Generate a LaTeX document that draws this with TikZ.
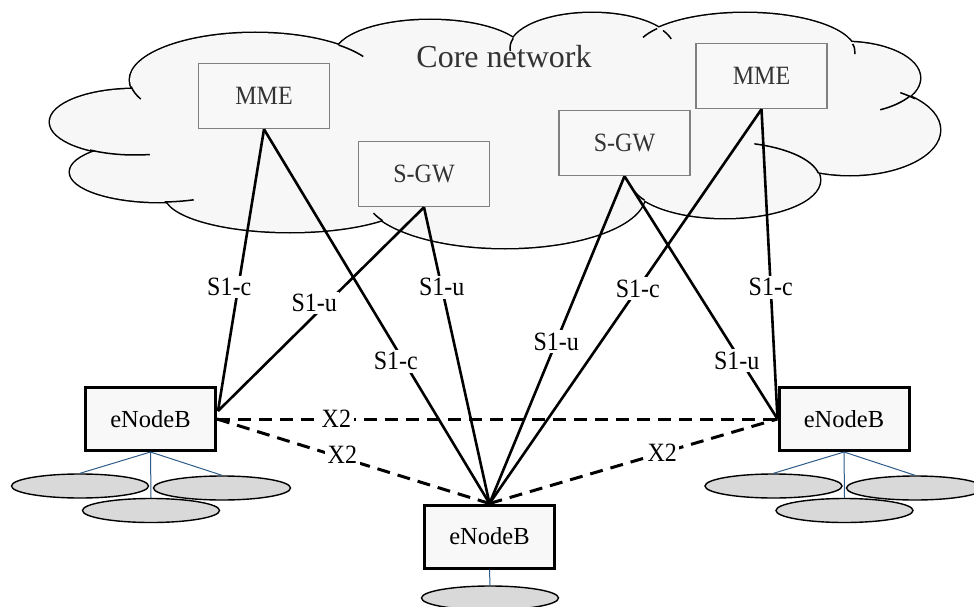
\documentclass[tikz,border=0pt]{standalone}
\usepackage{fontspec}
\usepackage{graphicx}
\setmainfont{Liberation Serif}
\usetikzlibrary{calc,shapes.geometric}
\definecolor{cloudfill}{HTML}{F7F7F7}
\definecolor{boxfill}{HTML}{F8F8F8}
\definecolor{boxgray}{HTML}{808080}
\definecolor{uefill}{HTML}{D9D9D9}
\definecolor{uelink}{HTML}{2E5C8A}
\definecolor{txtgray}{HTML}{333333}
\newcommand{\tallt}[1]{\scalebox{1}[1.1]{#1}}
\begin{document}
\begin{tikzpicture}[x=1pt,y=-1pt,
  corebox/.style={draw=boxgray, line width=1.5pt, fill=boxfill, minimum width=131pt, minimum height=65pt, inner sep=0pt, font=\fontsize{24}{28}\selectfont, text=txtgray},
  enb/.style={draw=black, line width=3pt, fill=boxfill, minimum width=130pt, minimum height=63pt, inner sep=0pt, font=\fontsize{24.5}{28}\selectfont},
  ue/.style={ellipse, draw=black, line width=1.4pt, fill=uefill, minimum width=137pt, minimum height=24pt, inner sep=0pt},
  uelinkstyle/.style={draw=uelink, line width=1pt},
  sone/.style={draw=black, line width=2.6pt},
  xtwo/.style={draw=black, line width=3pt, dash pattern=on 13pt off 8pt},
  lab/.style={fill=white, inner sep=2.5pt, font=\fontsize{24}{28}\selectfont},
  tail/.style={draw=black, line width=1.5pt},
  cloudtext/.style={font=\fontsize{32}{36}\selectfont, text=txtgray}
]
\useasboundingbox (0,0) rectangle (974,607);
\fill[white] (0,0) rectangle (974,607);

% cloud: outline of union of ellipses
\foreach \cx/\cy/\rx/\ry in {255/80/125/47, 135/122/85/33, 160/172/90/30, 290/195/125/37, 505/195/140/53, 725/180/95/38, 850/130/90/45, 845/78/75/36, 745/52/110/39, 592/48/82/35, 430/55/95/35}
  \draw[line width=3pt] (\cx,\cy) ellipse [x radius=\rx, y radius=\ry];
\foreach \cx/\cy/\rx/\ry in {255/80/125/47, 135/122/85/33, 160/172/90/30, 290/195/125/37, 505/195/140/53, 725/180/95/38, 850/130/90/45, 845/78/75/36, 745/52/110/39, 592/48/82/35, 430/55/95/35, 500/125/320/75}
  \fill[cloudfill] (\cx,\cy) ellipse [x radius=\rx, y radius=\ry];
% cloud tails
\foreach \cx/\cy/\rx/\ry/\ta/\tb in {255/80/125/47/172/156, 255/80/125/47/-48/-30, 135/122/85/33/122/80, 160/172/90/30/87/68, 505/195/140/53/151/160, 725/180/95/38/148/165, 725/180/95/38/-72/-10, 850/130/90/45/-56/-44, 845/78/75/36/30/62, 745/52/110/39/-12/3, 745/52/110/39/-158/-143, 592/48/82/35/-30/-15, 592/48/82/35/175/196}
  \draw[tail] (\cx,\cy) ++({\rx*cos(\ta)},{\ry*sin(\ta)}) arc[start angle=\ta, end angle=\tb, x radius=\rx, y radius=\ry];

\node[cloudtext] (core) at (504,57) {Core network};

% core boxes
\node[corebox] (mme1) at (264,96) {\tallt{MME}};
\node[corebox] (sgw1) at (424,174) {\tallt{S-GW}};
\node[corebox] (sgw2) at (624.5,143) {\tallt{S-GW}};
\node[corebox] (mme2) at (761.5,76) {\tallt{MME}};

% eNodeBs
\node[enb] (enbL) at (150.5,419) {eNodeB};
\node[enb] (enbB) at (489.5,536.5) {eNodeB};
\node[enb] (enbR) at (844,419) {eNodeB};

% UEs
\node[ue] (ueL1) at (80,486) {};
\node[ue] (ueL2) at (222,488) {};
\node[ue] (ueL3) at (151,510.5) {};
\node[ue] (ueR1) at (773.5,486) {};
\node[ue] (ueR2) at (915,488) {};
\node[ue] (ueR3) at (844.5,510.5) {};
\node[ue] (ueB1) at (490,598) {};

\draw[uelinkstyle] (enbL.south) -- (ueL1.north);
\draw[uelinkstyle] (enbL.south) -- (ueL2.north);
\draw[uelinkstyle] (enbL.south) -- (ueL3.north);
\draw[uelinkstyle] (enbR.south) -- (ueR1.north);
\draw[uelinkstyle] (enbR.south) -- (ueR2.north);
\draw[uelinkstyle] (enbR.south) -- (ueR3.north);
\draw[uelinkstyle] (enbB.south) -- (ueB1.north);

% S1 interfaces
\coordinate (enbLs1) at ($(enbL.east)+(1,-8)$);
\draw[sone] (mme1.south) -- node[lab, pos=.56, xshift=-9pt] {\tallt{S1-c}} (enbLs1);
\draw[sone] (mme1.south) -- node[lab, pos=.62, xshift=-8pt] {\tallt{S1-c}} (enbB.north);
\draw[sone] (sgw1.south) -- node[lab, pos=.47, xshift=-13pt] {\tallt{S1-u}} (enbLs1);
\draw[sone] (sgw1.south) -- node[lab, pos=.27] {\tallt{S1-u}} (enbB.north);
\draw[sone] (sgw2.south) -- node[lab, pos=.506] {\tallt{S1-u}} (enbB.north);
\draw[sone] (sgw2.south) -- node[lab, pos=.76, xshift=-4pt] {\tallt{S1-u}} (enbR.west);
\draw[sone] (mme2.south) -- node[lab, pos=.455] {\tallt{S1-c}} (enbB.north);
\draw[sone] (mme2.south) -- node[lab, pos=.575] {\tallt{S1-c}} (enbR.west);

% X2 interfaces
\draw[xtwo] (enbL.east) -- node[lab, pos=.213] {\tallt{X2}} (enbR.west);
\draw[xtwo] (enbL.east) -- node[lab, pos=.46, yshift=3pt] {\tallt{X2}} (enbB.north);
\draw[xtwo] (enbB.north) -- node[lab, pos=.6] {\tallt{X2}} (enbR.west);
\end{tikzpicture}
\end{document}
